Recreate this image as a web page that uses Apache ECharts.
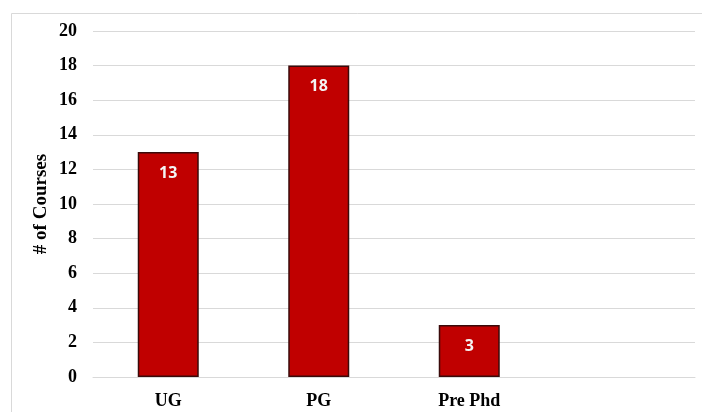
<!DOCTYPE html>
<html>
<head>
<meta charset="utf-8">
<script src="https://cdn.jsdelivr.net/npm/echarts@6/dist/echarts.min.js"></script>
<style>
html,body{margin:0;padding:0;background:#fff;}
#c{width:702px;height:412px;}
</style>
</head>
<body>
<div id="c"></div>
<script>
const categories = ['UG', 'PG', 'Pre Phd', ''];
const courses = [13, 18, 3, null];
const yTicks = { min: 0, max: 20, interval: 2 };
const yName = '# of Courses';

const chart = echarts.init(document.getElementById('c'), null, { renderer: 'canvas' });
chart.setOption({
  animation: false,
  backgroundColor: '#ffffff',
  graphic: [{
    type: 'rect',
    left: 9, top: 11,
    shape: { width: 720, height: 420 },
    style: { fill: 'none', stroke: '#d9d9d9', lineWidth: 1 },
    silent: true, z: -1
  }],
  grid: { left: 93, right: 7, top: 31, bottom: 35 },
  xAxis: {
    type: 'category',
    data: categories,
    axisLine: { show: true, lineStyle: { color: '#d9d9d9', width: 1 } },
    axisTick: { show: false },
    axisLabel: {
      color: '#000', fontFamily: 'Liberation Serif', fontWeight: 'bold', fontSize: 18, margin: 15
    }
  },
  yAxis: {
    type: 'value',
    min: yTicks.min, max: yTicks.max, interval: yTicks.interval,
    name: yName,
    nameLocation: 'middle',
    nameGap: 42,
    nameMoveOverlap: false,
    nameTextStyle: { color: '#000', fontFamily: 'Liberation Serif', fontWeight: 'bold', fontSize: 19 },
    axisLine: { show: false },
    axisTick: { show: false },
    axisLabel: { color: '#000', fontFamily: 'Liberation Serif', fontWeight: 'bold', fontSize: 18, margin: 16 },
    splitLine: { lineStyle: { color: '#d9d9d9', width: 1 } }
  },
  series: [{
    type: 'bar',
    data: courses,
    barWidth: 61,
    itemStyle: { color: '#c00000', borderColor: '#3a0a0a', borderWidth: 1.5 },
    label: {
      show: true, position: 'insideTop', distance: 13,
      color: '#f4f4f4', fontFamily: 'Open Sans', fontWeight: 'bold', fontSize: 16
    }
  }]
});
</script>
</body>
</html>
